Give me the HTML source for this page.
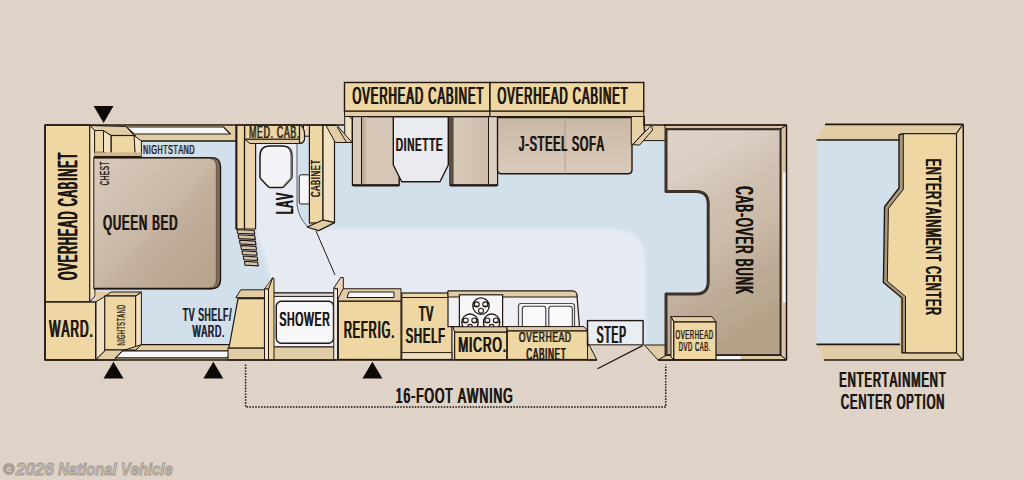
<!DOCTYPE html>
<html><head><meta charset="utf-8"><style>
html,body{margin:0;padding:0;background:#dfd2c7;}
svg{display:block;font-family:"Liberation Sans",sans-serif;font-kerning:none;}
</style></head><body>
<svg width="1024" height="480" viewBox="0 0 1024 480">
<defs>
<linearGradient id="gBed" x1="0" y1="0" x2="1" y2="1"><stop offset="0" stop-color="#d8cabc"/><stop offset="0.13" stop-color="#d4c5b7"/><stop offset="0.49" stop-color="#c8b8a6"/><stop offset="0.56" stop-color="#c2b09d"/><stop offset="0.88" stop-color="#b9a68f"/><stop offset="1" stop-color="#b5a28b"/></linearGradient>
<linearGradient id="gBunk" x1="0" y1="0" x2="0.3" y2="1"><stop offset="0" stop-color="#dfd3c8"/><stop offset="0.236" stop-color="#dacdc1"/><stop offset="0.40" stop-color="#d0c1b2"/><stop offset="0.61" stop-color="#cbbaa8"/><stop offset="0.80" stop-color="#bdab97"/><stop offset="0.95" stop-color="#b8a78e"/><stop offset="1" stop-color="#b5a288"/></linearGradient>
<linearGradient id="gSeat" x1="0" y1="0" x2="0" y2="1"><stop offset="0" stop-color="#cab8a6"/><stop offset="1" stop-color="#d9cabb"/></linearGradient>
<linearGradient id="gSeatH" x1="0" y1="0" x2="1" y2="0"><stop offset="0" stop-color="#d9c9b9"/><stop offset="1" stop-color="#c4b09c"/></linearGradient>
<filter id="fBlur" x="-5%" y="-10%" width="110%" height="120%"><feGaussianBlur stdDeviation="1.6"/></filter>
<linearGradient id="gShL" x1="0" y1="0" x2="1" y2="0"><stop offset="0" stop-color="#b5a28f"/><stop offset="1" stop-color="#d5c6b6"/></linearGradient>
<linearGradient id="gSeatR" x1="0" y1="0" x2="1" y2="0"><stop offset="0" stop-color="#dacbbb"/><stop offset="1" stop-color="#cbb9a7"/></linearGradient>
</defs>
<rect width="1024" height="480" fill="#dfd2c7"/>
<polygon points="45,125 344.5,125 344.5,111 644,111 644,125 787,125 787,360 45,360" fill="#d2e0ec" />
<path d="M255.6,139 L297,139 L297,205 Q299,218 307,226 L310,229 L610,229 Q646,229 646,265 L646,345 L272,345 L272,285 L266,262 L255.6,229 Z" fill="#e6eaf3" filter="url(#fBlur)"/>
<path d="M255.6,139 L297,139 L297,205 Q299,218 307,226 L310,232 L262,232 L255.6,229 Z" fill="#e6eaf3" />
<line x1="297" y1="139" x2="297" y2="205" stroke="#5a5a60" stroke-width="1" />
<path d="M297,205 Q299,218 307,226" fill="none" stroke="#5a5a60" stroke-width="1" stroke-linejoin="round" />
<polygon points="90,125 236,125 236,141 95,141" fill="#e0cca5" stroke="#231811" stroke-width="0" stroke-linejoin="round" />
<line x1="141" y1="141" x2="236" y2="141" stroke="#231811" stroke-width="1.4" />
<polygon points="126.3,127 223.5,127 230.4,134 134,134" fill="#f6f7f9" stroke="#231811" stroke-width="1.2" stroke-linejoin="round" />
<rect x="45" y="125" width="44.8" height="177" fill="#eed7a2" stroke="#231811" stroke-width="1.4" />
<polygon points="89.8,125 95,130 95,296 89.8,302" fill="#f2e2c4" stroke="#231811" stroke-width="1" stroke-linejoin="round" />
<g transform="translate(77.20,279.90) rotate(-90) scale(0.3900,1)"><text x="-1.29" y="0" font-size="27.33" font-weight="normal" font-style="normal" fill="#1b1510" letter-spacing="3.090" >OVERHEAD CABINET</text><text x="-0.26" y="0" font-size="27.33" font-weight="normal" font-style="normal" fill="#1b1510" letter-spacing="3.090" >OVERHEAD CABINET</text><text x="0.77" y="0" font-size="27.33" font-weight="normal" font-style="normal" fill="#1b1510" letter-spacing="3.090" >OVERHEAD CABINET</text><text x="1.80" y="0" font-size="27.33" font-weight="normal" font-style="normal" fill="#1b1510" letter-spacing="3.090" >OVERHEAD CABINET</text></g>
<path d="M94,157.6 L211.5,157.6 Q220.5,157.6 220.5,166.6 L220.5,279.75 Q220.5,288.75 211.5,288.75 L94,288.75 Z" fill="#7d6c5c" stroke="#231811" stroke-width="1.4" stroke-linejoin="round" />
<path d="M94,158.4 L208.5,158.4 Q216.3,158.4 216.3,166.2 L216.3,280 Q216.3,288 208.5,288 L94,288 Z" fill="url(#gBed)" stroke="#5a4a3c" stroke-width="0.8" stroke-linejoin="round" />
<line x1="94" y1="288.6" x2="212" y2="288.6" stroke="#231811" stroke-width="1.4" />
<g transform="translate(103.30,229.80) scale(0.4962,1)"><text x="-1.07" y="0" font-size="22.67" font-weight="normal" font-style="normal" fill="#1b1510" letter-spacing="2.015" >QUEEN BED</text><text x="-0.07" y="0" font-size="22.67" font-weight="normal" font-style="normal" fill="#1b1510" letter-spacing="2.015" >QUEEN BED</text><text x="0.94" y="0" font-size="22.67" font-weight="normal" font-style="normal" fill="#1b1510" letter-spacing="2.015" >QUEEN BED</text></g>
<g transform="translate(108.50,185.30) rotate(-90) scale(0.4971,1)"><text x="-0.65" y="0" font-size="12.79" font-weight="normal" font-style="normal" fill="#2a2018" letter-spacing="1.135" >CHEST</text><text x="0.49" y="0" font-size="12.79" font-weight="normal" font-style="normal" fill="#2a2018" letter-spacing="1.135" >CHEST</text></g>
<polygon points="90,125.5 126,126.5 134,135.5 111.2,135.5 103.5,130.8 94.6,130.5" fill="#e0cca5" stroke="#231811" stroke-width="1" stroke-linejoin="round" />
<rect x="94.6" y="130.5" width="8.9" height="21.8" fill="#eed7a2" stroke="#231811" stroke-width="1" />
<polygon points="103.5,130.8 111.2,135.5 111.2,154.7 103.5,152.3" fill="#f2e2c4" stroke="#231811" stroke-width="1" stroke-linejoin="round" />
<rect x="111.2" y="135.5" width="24.1" height="20.1" fill="#eed7a2" stroke="#231811" stroke-width="1.2" />
<polygon points="134,135.5 141.4,141 141.4,157.5 135.3,155.6" fill="#f2e2c4" stroke="#231811" stroke-width="1" stroke-linejoin="round" />
<rect x="94.6" y="152.3" width="46.8" height="4.6" fill="#cfb88d" />
<line x1="94" y1="156.8" x2="141.4" y2="156.8" stroke="#231811" stroke-width="1.4" />
<g transform="translate(143.40,154.10) scale(0.5179,1)"><text x="-1.12" y="0" font-size="13.66" font-weight="normal" font-style="normal" fill="#1c2230" letter-spacing="1.164" >NIGHTSTAND</text><text x="0.04" y="0" font-size="13.66" font-weight="normal" font-style="normal" fill="#1c2230" letter-spacing="1.164" >NIGHTSTAND</text></g>
<polygon points="95,344.6 236,344.6 236,360 95,360" fill="#e0cca5" stroke="#231811" stroke-width="0" stroke-linejoin="round" />
<line x1="141" y1="344.6" x2="236" y2="344.6" stroke="#231811" stroke-width="1.2" />
<polygon points="122.4,350.8 232.2,350.8 227,357.9 115.4,357.9" fill="#f6f7f9" stroke="#231811" stroke-width="1.2" stroke-linejoin="round" />
<polygon points="95.7,292 141.4,292 141.4,296 95.7,302" fill="#e0cca5" stroke="#231811" stroke-width="0" stroke-linejoin="round" />
<polygon points="111,292 141.4,292 135.7,296 105.6,296" fill="#e0cca5" stroke="#231811" stroke-width="1" stroke-linejoin="round" />
<polygon points="95.7,302 105.6,296 105.6,350 95.7,360" fill="#f2e2c4" stroke="#231811" stroke-width="1" stroke-linejoin="round" />
<rect x="104.7" y="296" width="31" height="54" fill="#eed7a2" stroke="#231811" stroke-width="1.2" />
<polygon points="135.7,296 141.4,292.4 141.4,344.6 135.7,350" fill="#f2e2c4" stroke="#231811" stroke-width="1" stroke-linejoin="round" />
<polygon points="95.7,360 105.6,350 135.7,350 141.4,344.6 122.4,350.8 115.4,357.9 115.4,360" fill="#e0cca5" stroke="#231811" stroke-width="1" stroke-linejoin="round" />
<g transform="translate(125.00,345.30) rotate(-90) scale(0.5556,1)"><text x="-0.83" y="0" font-size="10.17" font-weight="normal" font-style="normal" fill="#3a2f1e" letter-spacing="0.808" >NIGHTSTAND</text><text x="-0.03" y="0" font-size="10.17" font-weight="normal" font-style="normal" fill="#3a2f1e" letter-spacing="0.808" >NIGHTSTAND</text></g>
<rect x="45" y="302" width="50.7" height="58" fill="#eed7a2" stroke="#231811" stroke-width="1.4" />
<g transform="translate(48.90,336.90) scale(0.5034,1)"><text x="-0.10" y="0" font-size="23.40" font-weight="normal" font-style="normal" fill="#1b1510" letter-spacing="2.050" >WARD.</text><text x="0.92" y="0" font-size="23.40" font-weight="normal" font-style="normal" fill="#1b1510" letter-spacing="2.050" >WARD.</text><text x="1.95" y="0" font-size="23.40" font-weight="normal" font-style="normal" fill="#1b1510" letter-spacing="2.050" >WARD.</text></g>
<g transform="translate(182.80,320.50) scale(0.4792,1)"><text x="-0.39" y="0" font-size="17.44" font-weight="normal" font-style="normal" fill="#1c2230" letter-spacing="1.605" >TV SHELF/</text><text x="0.41" y="0" font-size="17.44" font-weight="normal" font-style="normal" fill="#1c2230" letter-spacing="1.605" >TV SHELF/</text><text x="1.21" y="0" font-size="17.44" font-weight="normal" font-style="normal" fill="#1c2230" letter-spacing="1.605" >TV SHELF/</text></g>
<g transform="translate(192.20,336.70) scale(0.5195,1)"><text x="-0.07" y="0" font-size="16.72" font-weight="normal" font-style="normal" fill="#1c2230" letter-spacing="1.419" >WARD.</text><text x="0.64" y="0" font-size="16.72" font-weight="normal" font-style="normal" fill="#1c2230" letter-spacing="1.419" >WARD.</text><text x="1.35" y="0" font-size="16.72" font-weight="normal" font-style="normal" fill="#1c2230" letter-spacing="1.419" >WARD.</text></g>
<polygon points="236,125 244.5,125 244.5,229 236,229" fill="#eed7a2" stroke="#231811" stroke-width="1.2" stroke-linejoin="round" />
<polygon points="244.5,139 255.6,139 255.6,229 244.5,229" fill="#ead2ae" stroke="#231811" stroke-width="1.2" stroke-linejoin="round" />
<line x1="236.6" y1="125" x2="236.6" y2="229" stroke="#231811" stroke-width="1.6" />
<path d="M237.00,229.50 L254.20,230.50 L254.70,234.10 L237.50,233.30 Z" fill="#d3c2a9" stroke="#231811" stroke-width="1.1" stroke-linejoin="round" />
<path d="M238.25,234.80 L254.80,235.80 L255.30,239.40 L238.75,238.60 Z" fill="#d3c2a9" stroke="#231811" stroke-width="1.1" stroke-linejoin="round" />
<path d="M239.50,240.10 L255.40,241.10 L255.90,244.70 L240.00,243.90 Z" fill="#d3c2a9" stroke="#231811" stroke-width="1.1" stroke-linejoin="round" />
<path d="M240.75,245.40 L256.00,246.40 L256.50,250.00 L241.25,249.20 Z" fill="#d3c2a9" stroke="#231811" stroke-width="1.1" stroke-linejoin="round" />
<path d="M242.00,250.70 L256.60,251.70 L257.10,255.30 L242.50,254.50 Z" fill="#d3c2a9" stroke="#231811" stroke-width="1.1" stroke-linejoin="round" />
<path d="M243.25,256.00 L257.20,257.00 L257.70,260.60 L243.75,259.80 Z" fill="#d3c2a9" stroke="#231811" stroke-width="1.1" stroke-linejoin="round" />
<path d="M244.50,261.30 L257.80,262.30 L258.30,265.90 L245.00,265.10 Z" fill="#d3c2a9" stroke="#231811" stroke-width="1.1" stroke-linejoin="round" />
<rect x="303.5" y="125" width="6" height="11.2" fill="#ead9bb" stroke="#231811" stroke-width="1" />
<rect x="244.7" y="125" width="54.8" height="14.3" fill="#eed7a2" stroke="#231811" stroke-width="1.2" />
<polygon points="244.7,139.3 299.5,139.3 299.5,143.5 250,143.5" fill="#e0cca5" stroke="#231811" stroke-width="1" stroke-linejoin="round" />
<path d="M299.5,125 L300.5,125 Q304.5,128 304.5,134 L304.5,139.5 Q303.5,143.5 299.5,143.5 Z" fill="#e8d5b0" stroke="#231811" stroke-width="1.2" stroke-linejoin="round" />
<g transform="translate(249.40,137.70) scale(0.5523,1)"><text x="-1.30" y="0" font-size="15.84" font-weight="normal" font-style="normal" fill="#2e2418" letter-spacing="1.265" >MED. CAB.</text><text x="-0.03" y="0" font-size="15.84" font-weight="normal" font-style="normal" fill="#2e2418" letter-spacing="1.265" >MED. CAB.</text></g>
<path d="M270,146 L282,146 Q292,146 292,156 L292,176.5 Q292,178 290.8,179.3 L284,186.5 Q283,187.6 281.5,187.6 L270.5,187.6 Q269,187.6 268,186.5 L261.2,179.3 Q260,178 260,176.5 L260,156 Q260,146 270,146 Z" fill="#f2f3f6" stroke="#231811" stroke-width="1.5" stroke-linejoin="round" />
<path d="M289,149 Q291,152 291,156 L291,178 L283,186.6" fill="none" stroke="#77777c" stroke-width="1.4" stroke-linejoin="round" />
<rect x="299.2" y="174.8" width="10.6" height="29.2" fill="#f5f6f8" stroke="#231811" stroke-width="1" rx="2" />
<g transform="translate(293.00,213.70) rotate(-90) scale(0.4352,1)"><text x="-1.90" y="0" font-size="23.11" font-weight="normal" font-style="normal" fill="#1b1510" letter-spacing="2.342" >LAV</text><text x="-0.72" y="0" font-size="23.11" font-weight="normal" font-style="normal" fill="#1b1510" letter-spacing="2.342" >LAV</text><text x="0.45" y="0" font-size="23.11" font-weight="normal" font-style="normal" fill="#1b1510" letter-spacing="2.342" >LAV</text></g>
<rect x="309.4" y="125" width="13.6" height="98" fill="#eed7a2" stroke="#231811" stroke-width="1.2" />
<polygon points="323,125 334.5,125 334.5,222.6 323,220" fill="#f2e2c4" stroke="#231811" stroke-width="1.2" stroke-linejoin="round" />
<polygon points="307,227 323,220 334.6,222.6 318.7,230.6" fill="#e0cca5" stroke="#231811" stroke-width="1.2" stroke-linejoin="round" />
<g transform="translate(319.60,197.00) rotate(-90) scale(0.5823,1)"><text x="-0.68" y="0" font-size="13.37" font-weight="normal" font-style="normal" fill="#2a2018" letter-spacing="1.013" >CABINET</text><text x="0.33" y="0" font-size="13.37" font-weight="normal" font-style="normal" fill="#2a2018" letter-spacing="1.013" >CABINET</text></g>
<line x1="316" y1="231" x2="335" y2="275" stroke="#231811" stroke-width="1" />
<rect x="344.7" y="112" width="7.5" height="30" fill="#f2e2c4" stroke="#231811" stroke-width="1" />
<polygon points="344.7,112 352.2,117.2 352.2,119 344.7,114" fill="#e0cca5" stroke="#231811" stroke-width="0.8" stroke-linejoin="round" />
<polygon points="326,125.5 337,125.3 352,142.5 335.3,142.5" fill="#e0cca5" stroke="#231811" stroke-width="1" stroke-linejoin="round" />
<line x1="337.2" y1="127" x2="346.6" y2="142.5" stroke="#231811" stroke-width="1" />
<rect x="344.5" y="82.5" width="145.5" height="28.75" fill="#eed7a2" stroke="#231811" stroke-width="1.4" />
<polygon points="344.5,111.25 490,111.25 490,116.5 344.5,116.5" fill="#e0cca5" stroke="#231811" stroke-width="1" stroke-linejoin="round" />
<g transform="translate(352.50,103.75) scale(0.4778,1)"><text x="-1.12" y="0" font-size="23.62" font-weight="normal" font-style="normal" fill="#1b1510" letter-spacing="2.180" >OVERHEAD CABINET</text><text x="-0.03" y="0" font-size="23.62" font-weight="normal" font-style="normal" fill="#1b1510" letter-spacing="2.180" >OVERHEAD CABINET</text><text x="1.06" y="0" font-size="23.62" font-weight="normal" font-style="normal" fill="#1b1510" letter-spacing="2.180" >OVERHEAD CABINET</text></g>
<rect x="490" y="82.5" width="153.75" height="28.75" fill="#eed7a2" stroke="#231811" stroke-width="1.4" />
<polygon points="490,111.25 643.75,111.25 643.75,116.5 490,116.5" fill="#e0cca5" stroke="#231811" stroke-width="1" stroke-linejoin="round" />
<g transform="translate(497.50,103.75) scale(0.4746,1)"><text x="-1.12" y="0" font-size="23.62" font-weight="normal" font-style="normal" fill="#1b1510" letter-spacing="2.195" >OVERHEAD CABINET</text><text x="-0.02" y="0" font-size="23.62" font-weight="normal" font-style="normal" fill="#1b1510" letter-spacing="2.195" >OVERHEAD CABINET</text><text x="1.08" y="0" font-size="23.62" font-weight="normal" font-style="normal" fill="#1b1510" letter-spacing="2.195" >OVERHEAD CABINET</text></g>
<rect x="352.5" y="116.7" width="46.7" height="68.5" fill="#d5c6b6" stroke="#231811" stroke-width="1.4" />
<rect x="361.5" y="117.3" width="6" height="67.5" fill="url(#gShL)" />
<rect x="352.5" y="116.7" width="9" height="68.5" fill="#d9cbbc" stroke="#231811" stroke-width="1" />
<line x1="353" y1="185.4" x2="399" y2="185.4" stroke="#231811" stroke-width="2.2" />
<rect x="450" y="116.7" width="47.5" height="68.5" fill="url(#gSeatR)" stroke="#231811" stroke-width="1.4" />
<rect x="450.6" y="117.3" width="3" height="67.5" fill="#5e4e40" />
<rect x="488.5" y="116.7" width="9" height="68.5" fill="#dcd0c3" stroke="#231811" stroke-width="1" />
<line x1="450.5" y1="185.4" x2="497" y2="185.4" stroke="#231811" stroke-width="2.2" />
<polygon points="393.3,116.7 448.3,116.7 448.3,165 440,181.7 401.7,181.7 393.3,165" fill="#e9ebf0" stroke="#231811" stroke-width="1.4" stroke-linejoin="round" />
<g transform="translate(396.30,151.30) scale(0.5144,1)"><text x="-1.55" y="0" font-size="18.90" font-weight="normal" font-style="normal" fill="#1b1510" letter-spacing="1.620" >DINETTE</text><text x="-0.74" y="0" font-size="18.90" font-weight="normal" font-style="normal" fill="#1b1510" letter-spacing="1.620" >DINETTE</text><text x="0.07" y="0" font-size="18.90" font-weight="normal" font-style="normal" fill="#1b1510" letter-spacing="1.620" >DINETTE</text></g>
<path d="M497.5,117.5 L632,117.5 L632,169.7 Q632,173.7 628,173.7 L501.5,173.7 Q497.5,173.7 497.5,169.7 Z" fill="url(#gSeat)" stroke="#231811" stroke-width="1.4" stroke-linejoin="round" />
<line x1="565" y1="117.5" x2="565" y2="173.7" stroke="#a89684" stroke-width="0.8" />
<g transform="translate(518.75,151.25) scale(0.4857,1)"><text x="-0.34" y="0" font-size="21.80" font-weight="normal" font-style="normal" fill="#1b1510" letter-spacing="1.980" >J-STEEL SOFA</text><text x="0.65" y="0" font-size="21.80" font-weight="normal" font-style="normal" fill="#1b1510" letter-spacing="1.980" >J-STEEL SOFA</text><text x="1.64" y="0" font-size="21.80" font-weight="normal" font-style="normal" fill="#1b1510" letter-spacing="1.980" >J-STEEL SOFA</text></g>
<polygon points="631.25,116.5 643.75,116.5 643.75,140 632.3,144.6 631.25,144.6" fill="#e9d2a6" stroke="#231811" stroke-width="1" stroke-linejoin="round" />
<polygon points="643.75,125 665.6,125 665.6,140.6 640,140.6" fill="#e0cca5" />
<line x1="640" y1="140.6" x2="665.6" y2="140.6" stroke="#231811" stroke-width="1" />
<line x1="644.3" y1="116" x2="644.3" y2="131" stroke="#231811" stroke-width="1.3" />
<polygon points="651.6,125.3 652.6,130 639.6,145.1 632.3,144.6" fill="#e0cca5" stroke="#231811" stroke-width="1" stroke-linejoin="round" />
<line x1="645.8" y1="130" x2="633.5" y2="144" stroke="#231811" stroke-width="0.8" />
<rect x="268.6" y="293" width="66.4" height="54" fill="#f3f4f7" stroke="#231811" stroke-width="1.2" />
<rect x="273.5" y="293" width="60.5" height="3.4" fill="#d9dadd" stroke="#231811" stroke-width="1" />
<rect x="276.3" y="301.3" width="57.2" height="41.9" fill="#f6f7f9" stroke="#231811" stroke-width="1.4" rx="5" />
<g transform="translate(279.50,326.00) scale(0.5290,1)"><text x="-0.88" y="0" font-size="19.33" font-weight="normal" font-style="normal" fill="#1b1510" letter-spacing="1.612" >SHOWER</text><text x="-0.07" y="0" font-size="19.33" font-weight="normal" font-style="normal" fill="#1b1510" letter-spacing="1.612" >SHOWER</text><text x="0.73" y="0" font-size="19.33" font-weight="normal" font-style="normal" fill="#1b1510" letter-spacing="1.612" >SHOWER</text></g>
<rect x="268.6" y="347" width="66.4" height="13" fill="#e0cca5" stroke="#231811" stroke-width="1" />
<polygon points="240.8,289.8 264.5,289.8 264.5,297.7 235.8,297.7" fill="#e0cca5" stroke="#231811" stroke-width="1" stroke-linejoin="round" />
<path d="M238,298.7 L264.5,298.7 L264.5,348.2 L228.9,348.2 Z" fill="#eed7a2" stroke="#231811" stroke-width="1.2" stroke-linejoin="round" />
<rect x="228" y="348.2" width="37" height="11.8" fill="#e0cca5" stroke="#231811" stroke-width="1" />
<polygon points="268.5,289 272.6,277.8 274,278.6 274,360 268.5,360" fill="#eed7a2" stroke="#231811" stroke-width="1" stroke-linejoin="round" />
<polygon points="264.5,289 272.6,277.8 268.5,289" fill="#e0cca5" stroke="#231811" stroke-width="0.8" stroke-linejoin="round" />
<rect x="264.5" y="289" width="4" height="71" fill="#f2e2c4" stroke="#231811" stroke-width="1" />
<polygon points="338,288.75 401,288.75 401,301.25 338,301.25" fill="#e0cca5" stroke="#231811" stroke-width="1" stroke-linejoin="round" />
<polygon points="349,292 394,292 394,297.5 347,297.5" fill="#f6f7f9" stroke="#231811" stroke-width="1" stroke-linejoin="round" />
<rect x="338.3" y="301.25" width="62.7" height="58.2" fill="#eed7a2" stroke="#231811" stroke-width="1.2" />
<polygon points="333.75,288 340.8,277.5 343.3,277.5 343.3,288.3 337.5,300 337.5,288.75" fill="#ecd2b8" stroke="#231811" stroke-width="1" stroke-linejoin="round" />
<rect x="333.75" y="288.75" width="3.75" height="71" fill="#f1ebe4" stroke="#231811" stroke-width="1" />
<g transform="translate(344.30,338.10) scale(0.4722,1)"><text x="-1.90" y="0" font-size="23.11" font-weight="normal" font-style="normal" fill="#1b1510" letter-spacing="2.159" >REFRIG.</text><text x="-0.82" y="0" font-size="23.11" font-weight="normal" font-style="normal" fill="#1b1510" letter-spacing="2.159" >REFRIG.</text><text x="0.26" y="0" font-size="23.11" font-weight="normal" font-style="normal" fill="#1b1510" letter-spacing="2.159" >REFRIG.</text></g>
<rect x="401.8" y="293" width="50.1" height="66.4" fill="#eed7a2" stroke="#231811" stroke-width="1.2" />
<line x1="401.8" y1="297.5" x2="451.9" y2="297.5" stroke="#231811" stroke-width="1" />
<rect x="401.8" y="352.6" width="50.1" height="6.8" fill="#efdfbf" stroke="#231811" stroke-width="1" />
<g transform="translate(418.70,321.40) scale(0.4548,1)"><text x="-0.51" y="0" font-size="22.67" font-weight="normal" font-style="normal" fill="#1b1510" letter-spacing="2.199" >TV</text><text x="0.59" y="0" font-size="22.67" font-weight="normal" font-style="normal" fill="#1b1510" letter-spacing="2.199" >TV</text><text x="1.69" y="0" font-size="22.67" font-weight="normal" font-style="normal" fill="#1b1510" letter-spacing="2.199" >TV</text></g>
<g transform="translate(405.80,343.10) scale(0.4821,1)"><text x="-1.03" y="0" font-size="22.67" font-weight="normal" font-style="normal" fill="#1b1510" letter-spacing="2.074" >SHELF</text><text x="0.01" y="0" font-size="22.67" font-weight="normal" font-style="normal" fill="#1b1510" letter-spacing="2.074" >SHELF</text><text x="1.04" y="0" font-size="22.67" font-weight="normal" font-style="normal" fill="#1b1510" letter-spacing="2.074" >SHELF</text></g>
<path d="M448,291 L572,291 Q577,291 577,296 L579.5,326.7 L448,326.7 Z" fill="#eef0f4" stroke="#231811" stroke-width="1.2" stroke-linejoin="round" />
<path d="M448,291 L572,291 Q577,291 577,296 L577,297 L448,297 Z" fill="#e0cca5" stroke="#231811" stroke-width="1" stroke-linejoin="round" />
<rect x="459.4" y="294.8" width="43.2" height="31.9" fill="#f5f6f8" stroke="#231811" stroke-width="1.2" />
<path d="M518.5,327 L518.5,306 Q518.5,303.5 521,303.5 L572,303.5 Q574.5,303.5 574.5,306 L574.5,327 Z" fill="#f3f4f7" stroke="#4d4b4b" stroke-width="1.2" stroke-linejoin="round" />
<path d="M522.3,327 L522.3,309 Q522.3,306.3 525,306.3 L543,306.3 Q545.8,306.3 545.8,309 L545.8,327 Z" fill="#f9f9fb" stroke="#3a3838" stroke-width="1.1" stroke-linejoin="round" />
<path d="M548.8,327 L548.8,309 Q548.8,306.3 551.5,306.3 L569.5,306.3 Q572.3,306.3 572.3,309 L572.3,327 Z" fill="#f9f9fb" stroke="#3a3838" stroke-width="1.1" stroke-linejoin="round" />
<clipPath id="cSt"><rect x="459.4" y="294.8" width="43.2" height="31.9"/></clipPath><g clip-path="url(#cSt)">
<circle cx="481" cy="306.1" r="8.2" fill="#f7f7f9" stroke="#231811" stroke-width="1.3"/>
<circle cx="476.74" cy="304.38" r="2.46" fill="none" stroke="#231811" stroke-width="1.1"/>
<circle cx="485.26" cy="304.38" r="2.46" fill="none" stroke="#231811" stroke-width="1.1"/>
<circle cx="481.00" cy="310.69" r="2.46" fill="none" stroke="#231811" stroke-width="1.1"/>
<path d="M472.80,306.1 L478.95,306.1 M489.20,306.1 L483.05,306.1" stroke="#231811" stroke-width="1"/>
<circle cx="470" cy="322.2" r="8.2" fill="#f7f7f9" stroke="#231811" stroke-width="1.3"/>
<circle cx="465.74" cy="320.48" r="2.46" fill="none" stroke="#231811" stroke-width="1.1"/>
<circle cx="474.26" cy="320.48" r="2.46" fill="none" stroke="#231811" stroke-width="1.1"/>
<circle cx="470.00" cy="326.79" r="2.46" fill="none" stroke="#231811" stroke-width="1.1"/>
<path d="M461.80,322.2 L467.95,322.2 M478.20,322.2 L472.05,322.2" stroke="#231811" stroke-width="1"/>
<circle cx="491.6" cy="322.2" r="8.2" fill="#f7f7f9" stroke="#231811" stroke-width="1.3"/>
<circle cx="487.34" cy="320.48" r="2.46" fill="none" stroke="#231811" stroke-width="1.1"/>
<circle cx="495.86" cy="320.48" r="2.46" fill="none" stroke="#231811" stroke-width="1.1"/>
<circle cx="491.60" cy="326.79" r="2.46" fill="none" stroke="#231811" stroke-width="1.1"/>
<path d="M483.40,322.2 L489.55,322.2 M499.80,322.2 L493.65,322.2" stroke="#231811" stroke-width="1"/>
</g>
<polygon points="453,326.8 506.8,326.8 506.8,332.2 454.6,332.2" fill="#e0cca5" stroke="#231811" stroke-width="1" stroke-linejoin="round" />
<rect x="454.6" y="332.2" width="52.2" height="27.4" fill="#eed7a2" stroke="#231811" stroke-width="1.2" />
<g transform="translate(458.70,351.90) scale(0.5503,1)"><text x="-1.78" y="0" font-size="21.66" font-weight="normal" font-style="normal" fill="#1b1510" letter-spacing="1.736" >MICRO.</text><text x="-0.91" y="0" font-size="21.66" font-weight="normal" font-style="normal" fill="#1b1510" letter-spacing="1.736" >MICRO.</text><text x="-0.04" y="0" font-size="21.66" font-weight="normal" font-style="normal" fill="#1b1510" letter-spacing="1.736" >MICRO.</text></g>
<polygon points="506.8,326.6 584,326.6 588,331 507.3,331" fill="#e0cca5" stroke="#231811" stroke-width="1" stroke-linejoin="round" />
<rect x="507.3" y="331" width="80.6" height="28.5" fill="#eed7a2" stroke="#231811" stroke-width="1.2" />
<clipPath id="cOC"><rect x="507.3" y="331" width="80.6" height="28.5"/></clipPath>
<g clip-path="url(#cOC)">
<g transform="translate(519.00,342.00) scale(0.5656,1)"><text x="-0.71" y="0" font-size="14.97" font-weight="normal" font-style="normal" fill="#2a2018" letter-spacing="1.167" >OVERHEAD</text><text x="0.46" y="0" font-size="14.97" font-weight="normal" font-style="normal" fill="#2a2018" letter-spacing="1.167" >OVERHEAD</text></g>
<g transform="translate(526.40,359.50) scale(0.4727,1)"><text x="-0.86" y="0" font-size="17.01" font-weight="normal" font-style="normal" fill="#2a2018" letter-spacing="1.587" >CABINET</text><text x="-0.07" y="0" font-size="17.01" font-weight="normal" font-style="normal" fill="#2a2018" letter-spacing="1.587" >CABINET</text><text x="0.72" y="0" font-size="17.01" font-weight="normal" font-style="normal" fill="#2a2018" letter-spacing="1.587" >CABINET</text></g>
</g>
<rect x="587.5" y="320.6" width="55.6" height="24.4" fill="#e9edf4" stroke="#231811" stroke-width="1.4" />
<g transform="translate(596.70,342.70) scale(0.4279,1)"><text x="-1.06" y="0" font-size="23.40" font-weight="normal" font-style="normal" fill="#1b1510" letter-spacing="2.412" >STEP</text><text x="0.14" y="0" font-size="23.40" font-weight="normal" font-style="normal" fill="#1b1510" letter-spacing="2.412" >STEP</text><text x="1.35" y="0" font-size="23.40" font-weight="normal" font-style="normal" fill="#1b1510" letter-spacing="2.412" >STEP</text></g>
<polygon points="587.5,345.6 644.4,345.6 658.1,361 587.5,361" fill="#dfd2c7" />
<polygon points="587.5,331 587.9,345.6 589.5,345.6 596.9,360 587.5,360" fill="#e0cca5" stroke="#231811" stroke-width="1" stroke-linejoin="round" />
<polygon points="644.4,345 665,345 672.5,360 658.1,360" fill="#e0cca5" stroke="#231811" stroke-width="1" stroke-linejoin="round" />
<line x1="642.5" y1="345.6" x2="597.5" y2="368.75" stroke="#231811" stroke-width="1.2" />
<path d="M666,128.75 L781,128.75 L781,355.4 L666,355.4 L666,294 L696,294 Q708.2,294 708.2,281.5 L708.2,204 Q708.2,191.5 696,191.5 L666,191.5 Z" fill="url(#gBunk)" stroke="#3d3128" stroke-width="3.0" stroke-linejoin="round" />
<polygon points="664,125 786.5,125 781,128.75 666,128.75" fill="#d6c3a4" stroke="#231811" stroke-width="1" stroke-linejoin="round" />
<polygon points="781,128.75 786.5,125 786.5,360 781,355.4" fill="#d6c3a4" stroke="#231811" stroke-width="1" stroke-linejoin="round" />
<rect x="783" y="172.5" width="3.5" height="130" fill="#f6f7f9" />
<polygon points="666,355.4 781,355.4 786.5,360 658,360" fill="#dcc9a8" stroke="#231811" stroke-width="1" stroke-linejoin="round" />
<rect x="716.7" y="356" width="24" height="4" fill="#f6f7f9" />
<g transform="translate(736.40,186.40) rotate(90) scale(0.4611,1)"><text x="-1.25" y="0" font-size="24.71" font-weight="normal" font-style="normal" fill="#1b1510" letter-spacing="2.363" >CAB-OVER BUNK</text><text x="-0.47" y="0" font-size="24.71" font-weight="normal" font-style="normal" fill="#1b1510" letter-spacing="2.363" >CAB-OVER BUNK</text><text x="0.32" y="0" font-size="24.71" font-weight="normal" font-style="normal" fill="#1b1510" letter-spacing="2.363" >CAB-OVER BUNK</text><text x="1.11" y="0" font-size="24.71" font-weight="normal" font-style="normal" fill="#1b1510" letter-spacing="2.363" >CAB-OVER BUNK</text></g>
<polygon points="671,316.6 712,316.6 716,322 673.8,322" fill="#e0cca5" stroke="#231811" stroke-width="1" stroke-linejoin="round" />
<polygon points="671,316.6 673.8,322 673.8,359.7 671,357" fill="#f2e2c4" stroke="#231811" stroke-width="1" stroke-linejoin="round" />
<rect x="673.8" y="322" width="42.2" height="37.7" fill="#eed7a2" stroke="#231811" stroke-width="1.2" />
<g transform="translate(675.60,339.00) scale(0.4913,1)"><text x="-0.58" y="0" font-size="12.21" font-weight="normal" font-style="normal" fill="#2a2018" letter-spacing="1.096" >OVERHEAD</text><text x="0.52" y="0" font-size="12.21" font-weight="normal" font-style="normal" fill="#2a2018" letter-spacing="1.096" >OVERHEAD</text></g>
<g transform="translate(679.00,351.30) scale(0.4739,1)"><text x="-1.01" y="0" font-size="12.35" font-weight="normal" font-style="normal" fill="#2a2018" letter-spacing="1.150" >DVD CAB.</text><text x="0.14" y="0" font-size="12.35" font-weight="normal" font-style="normal" fill="#2a2018" letter-spacing="1.150" >DVD CAB.</text></g>
<line x1="45" y1="125" x2="344.5" y2="125" stroke="#231811" stroke-width="1.5" />
<line x1="643.75" y1="125" x2="786.5" y2="125" stroke="#231811" stroke-width="1.5" />
<line x1="45" y1="125" x2="45" y2="360" stroke="#231811" stroke-width="1.5" />
<line x1="786.5" y1="125" x2="786.5" y2="360" stroke="#231811" stroke-width="1.5" />
<line x1="45" y1="360.1" x2="597" y2="360.1" stroke="#231811" stroke-width="1.5" />
<line x1="658" y1="360.1" x2="786.5" y2="360.1" stroke="#231811" stroke-width="1.5" />
<polygon points="113.5,361.8 123.5,378.5 103.5,378.5" fill="#0d0907" />
<polygon points="213.3,361.8 223.3,378.5 203.3,378.5" fill="#0d0907" />
<polygon points="372.4,361.8 382.4,378.5 362.4,378.5" fill="#0d0907" />
<polygon points="93.7,106 113.5,106 103.6,123" fill="#0d0907" />
<path d="M245.6,364.4 L245.6,407 L665.7,407 L665.7,364.4" fill="none" stroke="#1e1610" stroke-width="1.5" stroke-dasharray="1.6 1.3"/>
<g transform="translate(396.20,403.10) scale(0.5240,1)"><text x="-1.75" y="0" font-size="22.97" font-weight="normal" font-style="normal" fill="#1b1510" letter-spacing="1.933" >16-FOOT AWNING</text><text x="-0.78" y="0" font-size="22.97" font-weight="normal" font-style="normal" fill="#1b1510" letter-spacing="1.933" >16-FOOT AWNING</text><text x="0.18" y="0" font-size="22.97" font-weight="normal" font-style="normal" fill="#1b1510" letter-spacing="1.933" >16-FOOT AWNING</text></g>
<polygon points="825,124.4 963,124.4 963,360 824,360 816.9,345 816.25,139.6" fill="#e0cca5" />
<line x1="825" y1="124.4" x2="963" y2="124.4" stroke="#231811" stroke-width="1.6" />
<rect x="816.5" y="140" width="83" height="204.4" fill="#d2e0ec" />
<line x1="816.5" y1="140" x2="900" y2="140" stroke="#231811" stroke-width="1.6" />
<line x1="816.5" y1="344.4" x2="900" y2="344.4" stroke="#231811" stroke-width="1.6" />
<line x1="824" y1="360" x2="963" y2="360" stroke="#231811" stroke-width="1.6" />
<line x1="963" y1="124.4" x2="963" y2="360" stroke="#231811" stroke-width="1.6" />
<polygon points="899,134.8 903.3,133.75 956.5,133.75 963,124.4 963,360 957,352.8 902,352.8 902,298 883.4,282.5 884.6,206.7 899,188" fill="#a8977a" stroke="#231811" stroke-width="1.4" stroke-linejoin="round" />
<polygon points="903.3,133.75 956.5,133.75 956.5,352.8 905.5,352.8 905.5,296.5 887.3,281.3 888.4,208.4 903.3,189.5" fill="#eed7a2" stroke="#231811" stroke-width="1" stroke-linejoin="round" />
<polygon points="956.5,133.75 963,124.4 963,360 956.5,352.8" fill="#ead6ae" stroke="#231811" stroke-width="1" stroke-linejoin="round" />
<line x1="956.5" y1="133.75" x2="956.5" y2="352.8" stroke="#231811" stroke-width="1.2" />
<g transform="translate(925.70,159.40) rotate(90) scale(0.4902,1)"><text x="-1.79" y="0" font-size="21.80" font-weight="normal" font-style="normal" fill="#1b1510" letter-spacing="1.962" >ENTERTAINMENT CENTER</text><text x="-0.81" y="0" font-size="21.80" font-weight="normal" font-style="normal" fill="#1b1510" letter-spacing="1.962" >ENTERTAINMENT CENTER</text><text x="0.17" y="0" font-size="21.80" font-weight="normal" font-style="normal" fill="#1b1510" letter-spacing="1.962" >ENTERTAINMENT CENTER</text></g>
<g transform="translate(839.70,387.00) scale(0.4937,1)"><text x="-1.85" y="0" font-size="22.53" font-weight="normal" font-style="normal" fill="#1b1510" letter-spacing="2.012" >ENTERTAINMENT</text><text x="-0.84" y="0" font-size="22.53" font-weight="normal" font-style="normal" fill="#1b1510" letter-spacing="2.012" >ENTERTAINMENT</text><text x="0.16" y="0" font-size="22.53" font-weight="normal" font-style="normal" fill="#1b1510" letter-spacing="2.012" >ENTERTAINMENT</text></g>
<g transform="translate(841.00,409.00) scale(0.4906,1)"><text x="-1.15" y="0" font-size="22.67" font-weight="normal" font-style="normal" fill="#1b1510" letter-spacing="2.038" >CENTER OPTION</text><text x="-0.13" y="0" font-size="22.67" font-weight="normal" font-style="normal" fill="#1b1510" letter-spacing="2.038" >CENTER OPTION</text><text x="0.89" y="0" font-size="22.67" font-weight="normal" font-style="normal" fill="#1b1510" letter-spacing="2.038" >CENTER OPTION</text></g>
<circle cx="8.9" cy="468.9" r="5.7" fill="#a9a19a" stroke="#9a928b" stroke-width="0.6"/>
<text x="8.9" y="472.3" font-size="9" font-weight="bold" fill="#d8d0c8" text-anchor="middle">c</text>
<g transform="translate(15.40,474.80) scale(1.0195,1)"><text x="0.26" y="0" font-size="16.86" font-weight="bold" font-style="italic" fill="#cbc3bb" stroke="#a0988f" stroke-width="0.9">2026</text></g>
<g transform="translate(58.30,474.80) scale(0.8820,1)"><text x="-0.30" y="0" font-size="16.86" font-weight="bold" font-style="italic" fill="#cbc3bb" stroke="#a0988f" stroke-width="0.9">National Vehicle</text></g>
</svg></body></html>
